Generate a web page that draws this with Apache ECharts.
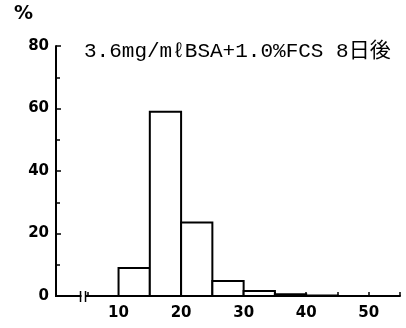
<!DOCTYPE html>
<html><head><meta charset="utf-8">
<script src="https://cdn.jsdelivr.net/npm/echarts@6/dist/echarts.min.js"></script>
<style>html,body{margin:0;padding:0;background:#fff}#c{width:406px;height:328px}</style>
</head><body><div id="c"></div>
<script>
const binStart = [10, 15, 20, 25, 30, 35, 40];
const binEnd   = [15, 20, 25, 30, 35, 40, 45];
const percent  = [9, 59, 23.5, 4.8, 1.6, 0.6, 0.15];
const xTickLabels = ['10', '20', '30', '40', '50'];
const yTickLabels = ['0', '20', '40', '60', '80'];
const titleText = '3.6mg/mℓBSA+1.0%FCS 8日後';

const chart = echarts.init(document.getElementById('c'), null, {renderer: 'canvas'});
const data = binStart.map((s, i) => [s, binEnd[i], percent[i]]);
const labelFont = '"DejaVu Sans",sans-serif';
const option = {
  animation: false,
  backgroundColor: '#fff',
  title: {
    text: titleText, left: 79, top: 36,
    textStyle: {fontFamily: '"Liberation Mono","Noto Sans CJK JP",monospace', fontWeight: 'normal', fontSize: 21, color: '#000'}
  },
  grid: {left: 56, right: 6, top: 46, bottom: 32},
  xAxis: {
    type: 'value', min: 0, max: 55, interval: 5,
    axisLine: {show: true, onZero: false, lineStyle: {color: '#000', width: 2}},
    axisTick: {show: true, inside: true, length: 4, lineStyle: {color: '#000', width: 1.5}},
    splitLine: {show: false},
    axisLabel: {
      margin: 10, color: '#000', fontWeight: 'bold', fontSize: 15, fontFamily: labelFont,
      formatter: v => xTickLabels.includes(String(v)) ? String(v) : ''
    }
  },
  yAxis: {
    type: 'value', min: 0, max: 80, interval: 20,
    axisLine: {show: true, onZero: false, lineStyle: {color: '#111', width: 2}},
    axisTick: {show: true, inside: true, length: 5, lineStyle: {color: '#000', width: 1.5}},
    minorTick: {show: true, splitNumber: 2, length: 4, lineStyle: {color: '#000', width: 1.5}},
    splitLine: {show: false},
    axisLabel: {
      margin: 7, color: '#000', fontWeight: 'bold', fontSize: 15, fontFamily: labelFont,
      formatter: v => yTickLabels.includes(String(v)) ? String(v) : ''
    }
  },
  series: [{
    type: 'custom',
    data: data,
    encode: {x: [0, 1], y: 2},
    renderItem: (params, api) => {
      const p0 = api.coord([api.value(0), api.value(2)]);
      const p1 = api.coord([api.value(1), 0]);
      return {
        type: 'rect',
        shape: {x: p0[0], y: p0[1], width: p1[0] - p0[0], height: p1[1] - p0[1]},
        style: {fill: '#fff', stroke: '#000', lineWidth: 2}
      };
    }
  }]
};
chart.setOption(option);
const bp = chart.convertToPixel({gridIndex: 0}, [4.4, 0]);
const yTop = chart.convertToPixel({gridIndex: 0}, [0, 80]);
const yBot = chart.convertToPixel({gridIndex: 0}, [0, 0]);
chart.setOption({graphic: [
  {type: 'text', left: 14, top: 5, style: {text: '%', font: 'bold 19px "DejaVu Sans",sans-serif', fill: '#000'}},
  {type: 'line', z: 100, shape: {x1: yTop[0], y1: yTop[1], x2: yBot[0], y2: yBot[1] + 1}, style: {stroke: '#000', lineWidth: 2}},
  {type: 'rect', z: 100, shape: {x: bp[0] - 2, y: bp[1] - 3, width: 4, height: 6}, style: {fill: '#fff'}},
  {type: 'line', z: 100, shape: {x1: bp[0] - 3, y1: bp[1] - 5, x2: bp[0] - 3, y2: bp[1] + 6}, style: {stroke: '#000', lineWidth: 1.5}},
  {type: 'line', z: 100, shape: {x1: bp[0] + 2, y1: bp[1] - 5, x2: bp[0] + 2, y2: bp[1] + 6}, style: {stroke: '#000', lineWidth: 1.5}}
]});
</script></body></html>
